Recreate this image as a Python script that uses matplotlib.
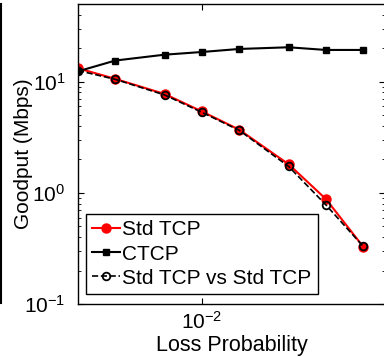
import matplotlib
matplotlib.use("Agg")
import matplotlib.pyplot as plt
from matplotlib.ticker import FixedLocator, NullLocator, LogLocator
from matplotlib.lines import Line2D

plt.rcParams['font.family'] = ['Liberation Sans', 'DejaVu Sans']
plt.rcParams['mathtext.fontset'] = 'custom'
plt.rcParams['mathtext.rm'] = 'Liberation Sans'
plt.rcParams['mathtext.it'] = 'Liberation Sans:italic'
plt.rcParams['mathtext.bf'] = 'Liberation Sans:bold'

# datos
loss_prob = [0.001, 0.002, 0.005, 0.01, 0.02, 0.05, 0.1, 0.2]
std_tcp = [13.2, 10.6, 7.75, 5.4, 3.7, 1.81, 0.88, 0.328]
ctcp = [12.4, 15.5, 17.5, 18.5, 19.7, 20.4, 19.3, 19.3]
std_vs_std = [12.6, 10.5, 7.6, 5.3, 3.65, 1.73, 0.78, 0.33]

fig = plt.figure(figsize=(3.84, 3.57), dpi=100)
ax = fig.add_axes([78/384, 53/357, 307/384, 300/357])

ax.plot(loss_prob, std_tcp, color='red', lw=1.5, marker='o', ms=6.5,
        mfc='red', mec='red', label='Std TCP')
ax.plot(loss_prob, ctcp, color='black', lw=1.5, marker='s', ms=5,
        mfc='black', mec='black', label='CTCP')
ax.plot(loss_prob, std_vs_std, color='black', lw=1.2, ls='--', marker='o', ms=5.5,
        mfc='none', mec='black', mew=1.3, label='Std TCP vs Std TCP')

ax.set_xscale('log')
ax.set_yscale('log')
ax.set_xlim(0.001, 0.3)
ax.set_ylim(0.1, 50)

ax.xaxis.set_major_locator(FixedLocator([0.01]))
ax.xaxis.set_minor_locator(NullLocator())
ax.yaxis.set_major_locator(LogLocator(base=10))
ax.yaxis.set_minor_locator(LogLocator(base=10, subs=range(2, 10)))

ax.tick_params(which='both', direction='in', top=True, right=True, labelsize=15)
ax.tick_params(which='major', length=4, width=0.8)
ax.tick_params(which='minor', length=2.5, width=0.6)
ax.tick_params(axis='y', pad=9)
ax.tick_params(axis='x', pad=5)

ax.set_xlabel('Loss Probability', fontsize=15.5, labelpad=1.5)
ax.set_ylabel('Goodput (Mbps)', fontsize=15)
ax.yaxis.set_label_coords(-0.147, 0.5)

for s in ax.spines.values():
    s.set_linewidth(1.0)

leg = ax.legend(loc='lower left', bbox_to_anchor=(8/307, 10/300), borderaxespad=0,
                fontsize=15, handlelength=1.35, handletextpad=0.1, labelspacing=0.25,
                borderpad=0.3, frameon=True, fancybox=False, framealpha=1)
leg.get_frame().set_edgecolor('black')
leg.get_frame().set_linewidth(1.0)

# borde de la grafica vecina
fig.add_artist(Line2D([1/384, 1/384], [1 - 4/357, 1 - 303/357], color='black', lw=1.5))

plt.savefig('out.png', dpi=100)
